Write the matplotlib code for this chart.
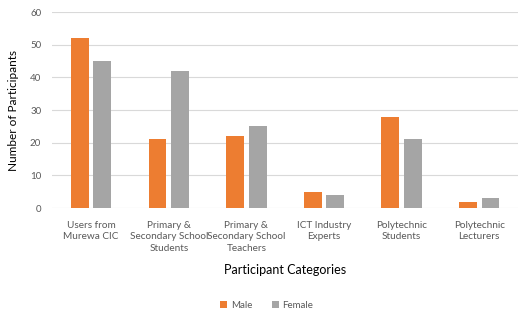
import matplotlib
matplotlib.use("Agg")
import matplotlib.pyplot as plt
import numpy as np

categories = ["Users from\nMurewa CIC", "Primary &\nSecondary School\nStudents",
              "Primary &\nSecondary School\nTeachers", "ICT Industry\nExperts",
              "Polytechnic\nStudents", "Polytechnic\nLecturers"]
male = [52, 21, 22, 5, 28, 2]
female = [45, 42, 25, 4, 21, 3]
yticks = [0, 10, 20, 30, 40, 50, 60]

plt.rcParams['font.family'] = ['Lato', 'DejaVu Sans']

fig = plt.figure(figsize=(5.18, 3.11), dpi=100)
ax = fig.add_axes([0.101, 0.331, 0.899, 0.63])
x = np.arange(len(categories))
w = 0.23
ax.bar(x - 0.145, male, w, color='#ED7D31', label='Male', zorder=3)
ax.bar(x + 0.145, female, w, color='#A5A5A5', label='Female', zorder=3)
ax.set_xlim(-0.5, len(categories) - 0.5)
ax.set_ylim(0, 60)
ax.set_yticks(yticks)
ax.set_yticklabels([str(t) for t in yticks], fontsize=7, color='#595959')
ax.set_xticks(x)
ax.set_xticklabels(categories, fontsize=7.2, color='#595959', linespacing=1.4)
ax.tick_params(axis='both', length=0, pad=8)
ax.tick_params(axis='x', pad=9)
ax.grid(axis='y', color='#D9D9D9', linewidth=0.8, zorder=0)
for s in ax.spines.values():
    s.set_visible(False)
ax.set_ylabel("Number of Participants", fontsize=8.5, color='#000000', labelpad=8)
ax.set_xlabel("Participant Categories", fontsize=9, color='#000000', labelpad=8)
leg = fig.legend(loc='lower center', bbox_to_anchor=(0.515, -0.025), ncol=2, frameon=False,
                 fontsize=7, handlelength=0.7, handleheight=0.7, columnspacing=2.0,
                 handletextpad=0.4)
for t in leg.get_texts():
    t.set_color('#595959')
fig.savefig("out.png", dpi=100)
